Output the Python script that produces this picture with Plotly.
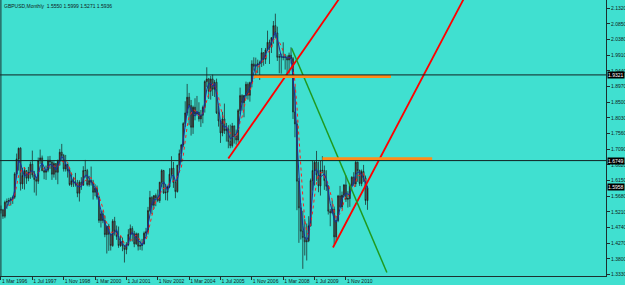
import pandas as pd
import plotly.graph_objects as go

# ---------------- data (GBPUSD monthly, Mar 1996 .. Oct 2011) ----------------
first_month = "1996-03-01"

opens = [
    1.5275, 1.5270, 1.5080, 1.5500, 1.5525, 1.5550, 1.5600, 1.5650, 1.6350, 1.6800,
    1.7120, 1.6050, 1.6300, 1.6450, 1.6220, 1.6390, 1.6640, 1.6320, 1.6180, 1.6130, 1.6750, 1.6830,
    1.6450, 1.6400, 1.6460, 1.6760, 1.6710, 1.6340, 1.6660, 1.6400, 1.6730, 1.7000, 1.6900, 1.6500,
    1.6630, 1.6450, 1.6030, 1.6140, 1.6100, 1.6040, 1.5770, 1.6100, 1.6010, 1.6450, 1.6450, 1.6030,
    1.6150, 1.6100, 1.5800, 1.5920, 1.5650, 1.4950, 1.5150, 1.4950, 1.4530, 1.4780, 1.4540, 1.4200,
    1.4930, 1.4630, 1.4470, 1.4200, 1.4330, 1.4190, 1.4080, 1.4230, 1.4530, 1.4710, 1.4550, 1.4250,
    1.4550, 1.4180, 1.4200, 1.4250, 1.4570, 1.4610, 1.5250, 1.5640, 1.5410, 1.5700, 1.5630, 1.5550,
    1.6100, 1.6450, 1.5780, 1.5800, 1.5960, 1.6340, 1.6520, 1.6090, 1.5820, 1.6610, 1.6960, 1.7220,
    1.7860, 1.8180, 1.8650, 1.8400, 1.7750, 1.8350, 1.8150, 1.8200, 1.8000, 1.8110, 1.8350, 1.9120,
    1.9200, 1.8830, 1.9200, 1.8890, 1.9100, 1.8180, 1.7940, 1.7580, 1.8000, 1.7650, 1.7700, 1.7320,
    1.7200, 1.7790, 1.7480, 1.7370, 1.8250, 1.8700, 1.8490, 1.8700, 1.9040, 1.8710, 1.9090, 1.9650,
    1.9580, 1.9620, 1.9650, 1.9690, 1.9990, 1.9790, 2.0070, 2.0300, 2.0150, 2.0440, 2.0800, 2.0580,
    1.9850, 1.9870, 1.9860, 1.9850, 1.9860, 1.9770, 1.9910, 1.9810, 1.8210, 1.7850, 1.6130, 1.5330,
    1.4630, 1.4440, 1.4310, 1.4340, 1.4790, 1.6150, 1.6450, 1.6700, 1.6320, 1.5990, 1.6460, 1.6450,
    1.6150, 1.5980, 1.5230, 1.5180, 1.5290, 1.4460, 1.4950, 1.5690, 1.5360, 1.5710, 1.6020, 1.5590,
    1.5610, 1.6010, 1.6250, 1.6050, 1.6700, 1.6450, 1.6060, 1.6420, 1.6230, 1.5550,
]
highs = [
    1.5400, 1.5300, 1.5550, 1.5610, 1.5630, 1.5650, 1.5700, 1.6400, 1.6960, 1.7140,
    1.7150, 1.6530, 1.6550, 1.6450, 1.6560, 1.6720, 1.7050, 1.6440, 1.6250, 1.6840, 1.7080, 1.6900,
    1.6540, 1.6600, 1.6880, 1.6890, 1.6740, 1.6730, 1.6670, 1.6780, 1.7100, 1.7250, 1.6950, 1.6920,
    1.6660, 1.6530, 1.6380, 1.6260, 1.6380, 1.6170, 1.6160, 1.6250, 1.6580, 1.6770, 1.6500, 1.6290,
    1.6570, 1.6170, 1.6040, 1.6000, 1.5700, 1.5250, 1.5250, 1.5100, 1.4770, 1.4850, 1.4560, 1.4990,
    1.5060, 1.4800, 1.4770, 1.4490, 1.4440, 1.4220, 1.4300, 1.4690, 1.4830, 1.4780, 1.4640, 1.4590,
    1.4580, 1.4350, 1.4400, 1.4620, 1.4730, 1.5360, 1.5840, 1.5680, 1.5700, 1.5760, 1.5880, 1.6110,
    1.6490, 1.6470, 1.6050, 1.6000, 1.6520, 1.6880, 1.6710, 1.6140, 1.6620, 1.7080, 1.7250, 1.7900,
    1.8530, 1.9050, 1.8780, 1.8570, 1.8400, 1.8620, 1.8690, 1.8500, 1.8270, 1.8400, 1.9160, 1.9550,
    1.9230, 1.9290, 1.9330, 1.9170, 1.9210, 1.8400, 1.7960, 1.8210, 1.8460, 1.7880, 1.7810, 1.7830,
    1.7880, 1.7800, 1.7680, 1.8300, 1.8940, 1.8740, 1.8720, 1.9120, 1.9100, 1.9120, 1.9760, 1.9850,
    1.9840, 1.9780, 1.9750, 2.0130, 2.0000, 2.0130, 2.0650, 2.0380, 2.0450, 2.0940, 2.1160, 2.0770,
    1.9950, 1.9960, 2.0300, 1.9950, 1.9910, 1.9990, 2.0150, 1.9860, 1.8970, 1.7950, 1.6230, 1.5470,
    1.5240, 1.4990, 1.4860, 1.5080, 1.6210, 1.6750, 1.6740, 1.7040, 1.6720, 1.6740, 1.6880, 1.6600,
    1.6460, 1.6010, 1.5300, 1.5550, 1.5370, 1.5090, 1.5720, 1.5990, 1.5820, 1.6040, 1.6300, 1.5830,
    1.6060, 1.6280, 1.6400, 1.6750, 1.6720, 1.6480, 1.6480, 1.6620, 1.6300, 1.5999,
]
lows = [
    1.5160, 1.5000, 1.5020, 1.5300, 1.5400, 1.5400, 1.5450, 1.5600, 1.6300, 1.6450,
    1.5850, 1.5900, 1.5880, 1.6050, 1.6130, 1.6200, 1.6240, 1.5790, 1.5700, 1.6050, 1.6650, 1.6430,
    1.6190, 1.6170, 1.6400, 1.6500, 1.6170, 1.6240, 1.6170, 1.6040, 1.6600, 1.6760, 1.6420, 1.6420,
    1.6240, 1.5990, 1.5960, 1.5960, 1.5970, 1.5650, 1.5520, 1.5870, 1.6000, 1.6240, 1.5980, 1.5970,
    1.6000, 1.5580, 1.5680, 1.5580, 1.4880, 1.4740, 1.4870, 1.4450, 1.3960, 1.4040, 1.4050, 1.4160,
    1.4500, 1.4370, 1.4130, 1.4160, 1.4030, 1.3690, 1.3940, 1.4180, 1.4320, 1.4320, 1.4150, 1.4220,
    1.4050, 1.4070, 1.4050, 1.4230, 1.4470, 1.4530, 1.5200, 1.5140, 1.5300, 1.5380, 1.5500, 1.5480,
    1.5960, 1.5750, 1.5560, 1.5550, 1.5920, 1.6280, 1.5930, 1.5620, 1.5790, 1.6520, 1.6700, 1.7150,
    1.7760, 1.8100, 1.7810, 1.7500, 1.7550, 1.7960, 1.8100, 1.7920, 1.7760, 1.7870, 1.8190, 1.8950,
    1.8600, 1.8580, 1.8690, 1.8660, 1.8150, 1.7770, 1.7280, 1.7480, 1.7550, 1.7320, 1.7120, 1.7120,
    1.7140, 1.7260, 1.7230, 1.7290, 1.8140, 1.8250, 1.8050, 1.8610, 1.8580, 1.8520, 1.8950, 1.9450,
    1.9230, 1.9370, 1.9170, 1.9560, 1.9600, 1.9650, 2.0050, 1.9650, 1.9980, 2.0260, 2.0420, 1.9740,
    1.9370, 1.9360, 1.9760, 1.9480, 1.9330, 1.9360, 1.9660, 1.8000, 1.7450, 1.5260, 1.4280, 1.4380,
    1.3500, 1.3900, 1.3750, 1.4300, 1.4770, 1.5850, 1.6000, 1.6140, 1.5800, 1.5700, 1.6370, 1.5870,
    1.5840, 1.5130, 1.4780, 1.5160, 1.4230, 1.4340, 1.4900, 1.5330, 1.5300, 1.5650, 1.5510, 1.5340,
    1.5360, 1.5960, 1.5990, 1.5960, 1.6110, 1.5990, 1.5980, 1.6110, 1.5420, 1.5271,
]
closes = [
    1.5270, 1.5080, 1.5500, 1.5525, 1.5550, 1.5600, 1.5650, 1.6350, 1.6800, 1.7120,
    1.6050, 1.6300, 1.6450, 1.6220, 1.6390, 1.6640, 1.6320, 1.6180, 1.6130, 1.6750, 1.6830, 1.6450,
    1.6400, 1.6460, 1.6760, 1.6710, 1.6340, 1.6660, 1.6400, 1.6730, 1.7000, 1.6900, 1.6500, 1.6630,
    1.6450, 1.6030, 1.6140, 1.6100, 1.6040, 1.5770, 1.6100, 1.6010, 1.6450, 1.6450, 1.6030, 1.6150,
    1.6100, 1.5800, 1.5920, 1.5650, 1.4950, 1.5150, 1.4950, 1.4530, 1.4780, 1.4540, 1.4200, 1.4930,
    1.4630, 1.4470, 1.4200, 1.4330, 1.4190, 1.4080, 1.4230, 1.4530, 1.4710, 1.4550, 1.4250, 1.4550,
    1.4180, 1.4200, 1.4250, 1.4570, 1.4610, 1.5250, 1.5640, 1.5410, 1.5700, 1.5630, 1.5550, 1.6100,
    1.6450, 1.5780, 1.5800, 1.5960, 1.6340, 1.6520, 1.6090, 1.5820, 1.6610, 1.6960, 1.7220, 1.7860,
    1.8180, 1.8650, 1.8400, 1.7750, 1.8350, 1.8150, 1.8200, 1.8000, 1.8110, 1.8350, 1.9120, 1.9200,
    1.8830, 1.9200, 1.8890, 1.9100, 1.8180, 1.7940, 1.7580, 1.8000, 1.7650, 1.7700, 1.7320, 1.7200,
    1.7790, 1.7480, 1.7370, 1.8250, 1.8700, 1.8490, 1.8700, 1.9040, 1.8710, 1.9090, 1.9650, 1.9580,
    1.9620, 1.9650, 1.9690, 1.9990, 1.9790, 2.0070, 2.0300, 2.0150, 2.0440, 2.0800, 2.0580, 1.9850,
    1.9870, 1.9860, 1.9850, 1.9860, 1.9770, 1.9910, 1.9810, 1.8210, 1.7850, 1.6130, 1.5330, 1.4630,
    1.4440, 1.4310, 1.4340, 1.4790, 1.6150, 1.6450, 1.6700, 1.6320, 1.5990, 1.6460, 1.6450, 1.6150,
    1.5980, 1.5230, 1.5180, 1.5290, 1.4460, 1.4950, 1.5690, 1.5360, 1.5710, 1.6020, 1.5590, 1.5610,
    1.6010, 1.6250, 1.6050, 1.6700, 1.6450, 1.6060, 1.6420, 1.6230, 1.5550, 1.5936,
]

# x-axis date labels (one every 16 bars in the reference)
tick_labels = ["1 Mar 1996", "1 Jul 1997", "1 Nov 1998", "1 Mar 2000", "1 Jul 2001",
               "1 Nov 2002", "1 Mar 2004", "1 Jul 2005", "1 Nov 2006", "1 Mar 2008",
               "1 Jul 2009", "1 Nov 2010"]
# right price scale
price_ticks = [2.1320, 2.0850, 2.0380, 1.9910, 1.9440, 1.8970, 1.8500, 1.8030, 1.7560,
               1.7090, 1.6620, 1.6150, 1.5680, 1.5210, 1.4740, 1.4270, 1.3800, 1.3330]

# drawn objects (bar position, price)
red_lines = [((116.0, 1.681), (176.0, 2.190)),
             ((169.4, 1.414), (240.0, 2.204))]
green_lines = [((148.3, 2.012), (196.9, 1.339))]
orange_levels = [(129.0, 199.0, 1.9275), (164.0, 220.0, 1.6803)]
hlines = [1.9321, 1.6749]
price_boxes = [("1.9321", 1.9321), ("1.6749", 1.6749), ("1.5958", 1.5946)]
header = "GBPUSD,Monthly  1.5550 1.5999 1.5271 1.5936"

# ---------------- build ----------------
n = len(closes)
months = pd.date_range(first_month, periods=n, freq="MS")
bar_pos = list(range(n))
start = pd.Timestamp(first_month)


def label_pos(lbl):
    d = pd.to_datetime(lbl, format="%d %b %Y")
    return (d.year - start.year) * 12 + (d.month - start.month)


tick_pos = [label_pos(t) for t in tick_labels]

close_s = pd.Series(closes)
ma_fast = close_s.rolling(3).mean()
ma_slow = close_s.rolling(5).mean()

BG = "#40E0D0"
AX = "#1c2f2f"
FONT = "Liberation Sans, Arial"

fig = go.Figure()
fig.add_trace(go.Candlestick(
    x=bar_pos, open=opens, high=highs, low=lows, close=closes,
    increasing=dict(line=dict(color="#1a1a1a", width=0.7), fillcolor="#8c1c1c"),
    decreasing=dict(line=dict(color="#1a1a1a", width=0.7), fillcolor="#6f8684"),
    whiskerwidth=0, showlegend=False, hoverinfo="skip",
))
fig.add_trace(go.Scatter(x=bar_pos, y=ma_slow, mode="lines",
                         line=dict(color="#ff2020", width=1, dash="dot"),
                         showlegend=False, hoverinfo="skip"))
fig.add_trace(go.Scatter(x=bar_pos, y=ma_fast, mode="lines",
                         line=dict(color="#1530a0", width=1),
                         showlegend=False, hoverinfo="skip"))

for (x0, y0), (x1, y1) in red_lines:
    fig.add_trace(go.Scatter(x=[x0, x1], y=[y0, y1], mode="lines",
                             line=dict(color="#ff0000", width=1.8),
                             showlegend=False, hoverinfo="skip"))
for (x0, y0), (x1, y1) in green_lines:
    fig.add_trace(go.Scatter(x=[x0, x1], y=[y0, y1], mode="lines",
                             line=dict(color="#1f9a1f", width=1.5),
                             showlegend=False, hoverinfo="skip"))
for x0, x1, y in orange_levels:
    fig.add_trace(go.Scatter(x=[x0, x1], y=[y, y], mode="lines",
                             line=dict(color="#ff8c1a", width=3),
                             showlegend=False, hoverinfo="skip"))

shapes = []
for y in hlines:
    shapes.append(dict(type="line", xref="paper", yref="y", x0=0, x1=1, y0=y, y1=y,
                       line=dict(color="#102020", width=1), layer="above"))
shapes.append(dict(type="line", xref="paper", yref="paper", x0=0.0015, x1=0.0015, y0=0, y1=1,
                   line=dict(color=AX, width=1)))

annotations = [dict(text=header, xref="paper", yref="paper", x=0.004, y=0.997,
                    xanchor="left", yanchor="top", showarrow=False,
                    font=dict(family=FONT, size=5, color="#102020"))]
for txt, y in price_boxes:
    annotations.append(dict(text=txt, xref="paper", yref="y", x=1.0, y=y,
                            xanchor="left", yanchor="middle", showarrow=False,
                            bgcolor="#000000", borderpad=0, xshift=1,
                            font=dict(family=FONT, size=5, color="#ffffff")))

fig.update_layout(
    width=625, height=285, autosize=False,
    margin=dict(l=0, r=19, t=0, b=9, pad=0),
    paper_bgcolor=BG, plot_bgcolor=BG,
    shapes=shapes, annotations=annotations,
    xaxis=dict(range=[-0.5, 308.7], tickmode="array", tickvals=tick_pos, ticktext=tick_labels,
               ticks="outside", ticklen=3, tickcolor=AX, showline=True, linecolor=AX,
               linewidth=1, showgrid=False, zeroline=False, rangeslider=dict(visible=False),
               ticklabelposition="outside right", tickangle=0, automargin=False,
               tickfont=dict(family=FONT, size=5, color="#102020")),
    yaxis=dict(range=[1.3285, 2.157], side="right", tickmode="array", tickvals=price_ticks,
               ticktext=[f"{v:.4f}" for v in price_ticks], ticks="outside", ticklen=3,
               tickcolor=AX, showline=True, linecolor=AX, linewidth=1, showgrid=False,
               zeroline=False, automargin=False,
               tickfont=dict(family=FONT, size=5, color="#102020")),
    hovermode=False,
)

fig.write_html("out.html")
